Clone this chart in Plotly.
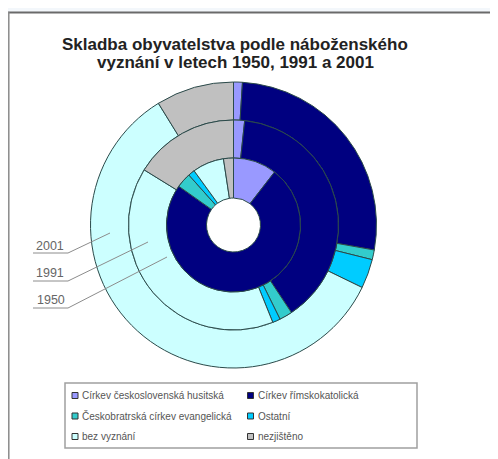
import plotly.graph_objects as go

# ---- data ----
categories = [
    "Církev československá husitská",
    "Církev římskokatolická",
    "Českobratrská církev evangelická",
    "Ostatní",
    "bez vyznání",
    "nezjištěno",
]
colors = ["#9999FF", "#000080", "#33CCCC", "#00CCFF", "#CCFFFF", "#C0C0C0"]
years = ["2001", "1991", "1950"]
values_1950 = [10.5, 74.3, 3.6, 1.6, 7.6, 2.4]
values_1991 = [1.7, 39.0, 2.0, 1.2, 39.9, 16.2]
values_2001 = [1.0, 26.8, 1.1, 3.3, 59.0, 8.8]
title_lines = ["Skladba obyvatelstva podle náboženského", "vyznání v letech 1950, 1991 a 2001"]

# page has an 8px body margin; work in window pixel coordinates
OFF = 8
W, H = 490, 451
CX, CY = 233.5, 225.0
R_HOLE, R_IN, R_MID, R_OUT = 27, 67, 105, 143


def px(x):
    return (x - OFF) / W


def py(y):
    return 1 - (y - OFF) / H


def dom(r):
    return dict(x=[px(CX - r), px(CX + r)], y=[py(CY + r), py(CY - r)])


fig = go.Figure()
rings = [(values_2001, R_OUT, R_MID), (values_1991, R_MID, R_IN), (values_1950, R_IN, R_HOLE)]
for (vals, ro, ri), yr in zip(rings, years):
    fig.add_trace(go.Pie(
        labels=categories, values=vals, name=yr,
        domain=dom(ro), hole=ri / ro,
        sort=False, direction="clockwise", rotation=0,
        marker=dict(colors=colors, line=dict(color="#2B4A4A", width=1)),
        textinfo="none", hoverinfo="label+value+name", showlegend=False,
    ))

shapes = []
annotations = []
# top strip and frame
shapes.append(dict(type="rect", xref="paper", yref="paper", x0=0, x1=1, y0=py(12), y1=1,
                   fillcolor="#F3F7FB", line=dict(width=0), layer="below"))
shapes.append(dict(type="line", xref="paper", yref="paper", x0=px(8), x1=px(491), y0=py(12.5), y1=py(12.5),
                   line=dict(color="#6A6A6A", width=2)))
shapes.append(dict(type="line", xref="paper", yref="paper", x0=px(8.8), x1=px(8.8), y0=py(12), y1=0,
                   line=dict(color="#8A8A8A", width=1.5)))
shapes.append(dict(type="line", xref="paper", yref="paper", x0=px(491), x1=px(491), y0=py(12), y1=0,
                   line=dict(color="#E4E4E4", width=1.5)))

# title (two lines, tight spacing)
for line, ty in zip(title_lines, [44, 62.5]):
    annotations.append(dict(text=f"<b>{line}</b>", x=px(235), y=py(ty), xref="paper", yref="paper",
                            showarrow=False, xanchor="center", yanchor="middle",
                            font=dict(family="Liberation Sans, Arial", size=17, color="#222222")))

# ring labels with leader lines
label_pos = [(50, 245.5, 253, 110, 233), (50, 272.5, 281, 148, 242), (51, 300, 308, 167, 257)]
for yr, (tx, ty, uy, ex, ey) in zip(years, label_pos):
    annotations.append(dict(text=yr, x=px(tx), y=py(ty), xref="paper", yref="paper",
                            showarrow=False, xanchor="center", yanchor="middle",
                            font=dict(family="Liberation Sans, Arial", size=12.5, color="#666666")))
    shapes.append(dict(type="path", xref="paper", yref="paper",
                       path=f"M {px(33)} {py(uy)} L {px(68)} {py(uy)} L {px(ex)} {py(ey)}",
                       line=dict(color="#8C8C8C", width=1)))

# legend box
LX0, LX1, LY0, LY1 = 65, 417, 383, 448
shapes.append(dict(type="rect", xref="paper", yref="paper", x0=px(LX0), x1=px(LX1), y0=py(LY1), y1=py(LY0),
                   line=dict(color="#A0A0A0", width=1.5), fillcolor="white"))
col_x = [75, 250.5]
row_y = [395.5, 416, 436.5]
for i, (lab, col) in enumerate(zip(categories, colors)):
    x = col_x[i % 2]
    y = row_y[i // 2]
    shapes.append(dict(type="rect", xref="paper", yref="paper",
                       x0=px(x - 3), x1=px(x + 3), y0=py(y + 3), y1=py(y - 3),
                       fillcolor=col, line=dict(color="#333333", width=1)))
    annotations.append(dict(text=lab, x=px(x + 5), y=py(y), xref="paper", yref="paper",
                            showarrow=False, xanchor="left", yanchor="middle",
                            font=dict(family="Liberation Sans, Arial", size=10, color="#555555")))

fig.update_layout(
    width=W, height=H,
    margin=dict(l=0, r=0, t=0, b=0),
    paper_bgcolor="white", plot_bgcolor="white",
    shapes=shapes, annotations=annotations,
    showlegend=False,
)

fig.write_html("out.html")
